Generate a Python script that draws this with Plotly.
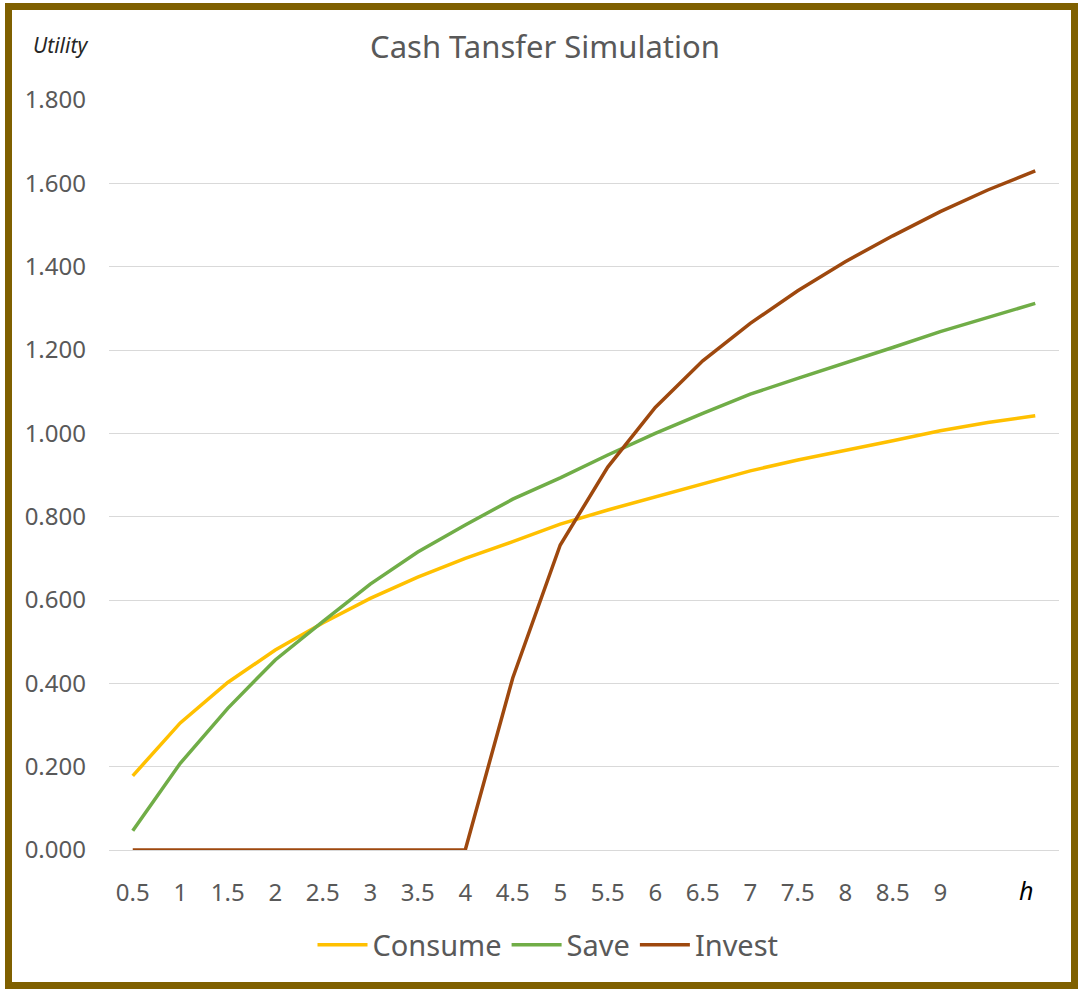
import plotly.graph_objects as go

h_values = [0.5, 1, 1.5, 2, 2.5, 3, 3.5, 4, 4.5, 5, 5.5, 6, 6.5, 7, 7.5, 8, 8.5, 9, 9.5, 10]
tick_labels = ["0.5", "1", "1.5", "2", "2.5", "3", "3.5", "4", "4.5", "5", "5.5", "6", "6.5", "7", "7.5", "8", "8.5", "9", "", ""]
consume = [0.178, 0.305, 0.402, 0.480, 0.545, 0.604, 0.655, 0.700, 0.740, 0.782, 0.816, 0.848, 0.880, 0.910, 0.936, 0.958, 0.982, 1.006, 1.026, 1.042]
save = [0.046, 0.208, 0.340, 0.456, 0.548, 0.638, 0.715, 0.780, 0.842, 0.893, 0.948, 1.000, 1.048, 1.094, 1.132, 1.168, 1.206, 1.244, 1.278, 1.312]
invest = [0, 0, 0, 0, 0, 0, 0, 0, 0.413, 0.732, 0.919, 1.062, 1.174, 1.264, 1.342, 1.412, 1.474, 1.532, 1.584, 1.630]

series = [("Consume", consume, "#FFC000"), ("Save", save, "#70AD47"), ("Invest", invest, "#9E480E")]

FONT = "'Noto Sans', Lato, sans-serif"
GRAY = "#595959"

fig = go.Figure()
for name, vals, col in series:
    fig.add_trace(go.Scatter(x=h_values, y=vals, mode="lines", name=name,
                             line=dict(color=col, width=3.5)))

W, H = 1078, 989
L, R, T, B = 109, 19, 100, 139
pw, ph = W - L - R, H - T - B

def px(x):
    return (x - L) / pw

def py(y):
    return (H - B - y) / ph

fig.update_layout(
    width=W, height=H,
    margin=dict(l=L, r=R, t=T, b=B),
    paper_bgcolor="white", plot_bgcolor="white",
    font=dict(family=FONT, color=GRAY),
    title=dict(text="Cash Tansfer Simulation", x=545 / W, xanchor="center",
               y=1 - 47 / H, yanchor="middle", xref="container", yref="container",
               font=dict(size=31, color=GRAY, family=FONT)),
    showlegend=True,
    legend=dict(orientation="h", x=px(548), xanchor="center", y=py(945), yanchor="middle",
                font=dict(size=29, color=GRAY, family=FONT), itemwidth=50,
                traceorder="normal", bgcolor="rgba(0,0,0,0)"),
    xaxis=dict(range=[0.25, 10.25], tickvals=h_values, ticktext=tick_labels,
               showgrid=False, zeroline=False, showline=True, linecolor="#D9D9D9", linewidth=1,
               ticks="", tickfont=dict(size=24, color=GRAY, family=FONT), ticklabelstandoff=21,
               fixedrange=True),
    yaxis=dict(range=[0, 1.8], dtick=0.2, tick0=0, tickformat=".3f",
               showgrid=True, gridcolor="#D9D9D9", gridwidth=1, zeroline=False,
               showline=False, ticks="", tickfont=dict(size=24, color=GRAY, family=FONT),
               ticklabelstandoff=22, fixedrange=True),
    shapes=[dict(type="rect", xref="paper", yref="paper",
                 x0=px(8.5), x1=px(1074.5), y0=py(985.5), y1=py(6.5),
                 line=dict(color="#7F6000", width=7), fillcolor="rgba(0,0,0,0)", layer="above")],
    annotations=[
        dict(text="<i>Utility</i>", xref="paper", yref="paper", x=px(60), y=py(45),
             xanchor="center", yanchor="middle", showarrow=False,
             font=dict(size=21, color="#262626", family=FONT)),
        dict(text="<i>h</i>", xref="paper", yref="paper", x=px(1026), y=py(890),
             xanchor="center", yanchor="middle", showarrow=False,
             font=dict(size=25, color="#000000", family=FONT)),
    ],
)

fig.write_html("out.html", config={"displayModeBar": False},
               post_script="document.body.style.margin='0';document.body.style.overflow='hidden';")
